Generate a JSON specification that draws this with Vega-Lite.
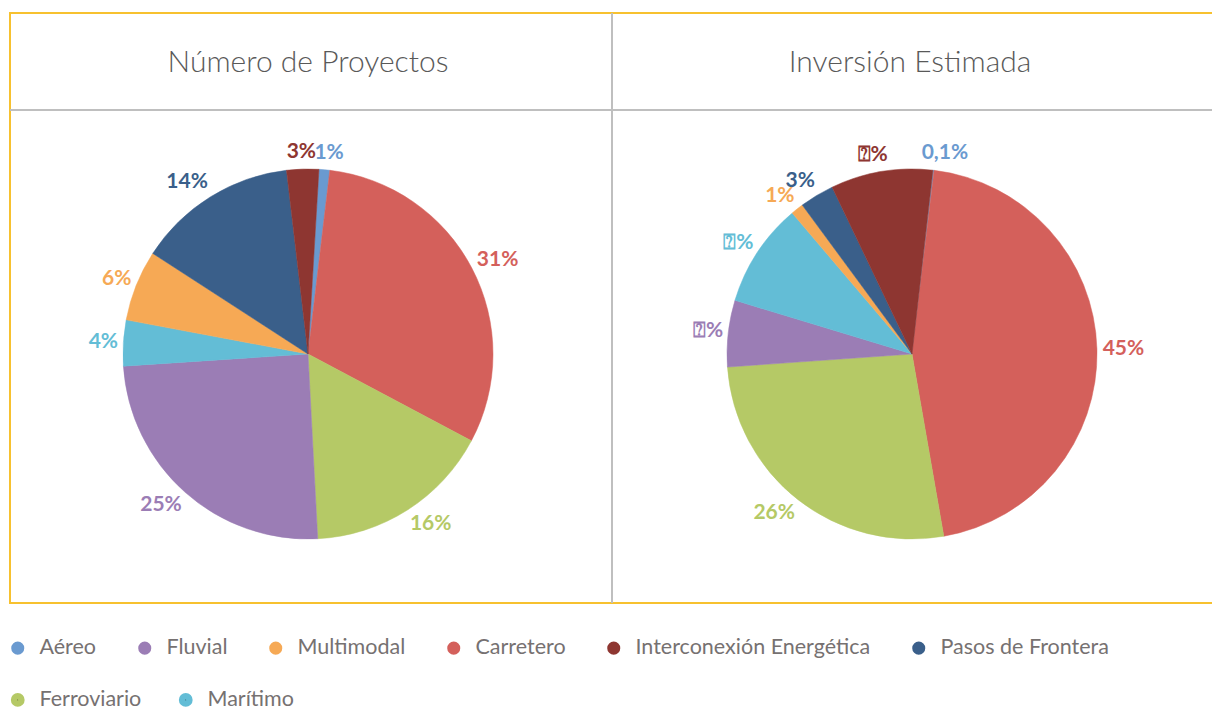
{
  "$schema": "https://vega.github.io/schema/vega-lite/v6.json",
  "width": 1204,
  "height": 590,
  "padding": {"left": 7, "top": 12, "right": 0, "bottom": 0},
  "background": "white",
  "config": {
    "view": {"stroke": "#F7C12F", "strokeWidth": 2},
    "font": "Lato"
  },
  "datasets": {
    "pies": [
      {"grafico": "Número de Proyectos", "categoria": "Aéreo", "orden": 1, "valor": 0.94, "etiqueta": "1%"},
      {"grafico": "Número de Proyectos", "categoria": "Carretero", "orden": 2, "valor": 30.9, "etiqueta": "31%"},
      {"grafico": "Número de Proyectos", "categoria": "Ferroviario", "orden": 3, "valor": 16.4, "etiqueta": "16%"},
      {"grafico": "Número de Proyectos", "categoria": "Fluvial", "orden": 4, "valor": 24.8, "etiqueta": "25%"},
      {"grafico": "Número de Proyectos", "categoria": "Marítimo", "orden": 5, "valor": 4.0, "etiqueta": "4%"},
      {"grafico": "Número de Proyectos", "categoria": "Multimodal", "orden": 6, "valor": 6.2, "etiqueta": "6%"},
      {"grafico": "Número de Proyectos", "categoria": "Pasos de Frontera", "orden": 7, "valor": 14.0, "etiqueta": "14%"},
      {"grafico": "Número de Proyectos", "categoria": "Interconexión Energética", "orden": 8, "valor": 2.8, "etiqueta": "3%"},
      {"grafico": "Inversión Estimada", "categoria": "Aéreo", "orden": 1, "valor": 0.1, "etiqueta": "0,1%"},
      {"grafico": "Inversión Estimada", "categoria": "Carretero", "orden": 2, "valor": 45.3, "etiqueta": "45%"},
      {"grafico": "Inversión Estimada", "categoria": "Ferroviario", "orden": 3, "valor": 26.6, "etiqueta": "26%"},
      {"grafico": "Inversión Estimada", "categoria": "Fluvial", "orden": 4, "valor": 5.8, "etiqueta": "⍰%"},
      {"grafico": "Inversión Estimada", "categoria": "Marítimo", "orden": 5, "valor": 9.1, "etiqueta": "⍰%"},
      {"grafico": "Inversión Estimada", "categoria": "Multimodal", "orden": 6, "valor": 1.1, "etiqueta": "1%"},
      {"grafico": "Inversión Estimada", "categoria": "Pasos de Frontera", "orden": 7, "valor": 3.0, "etiqueta": "3%"},
      {"grafico": "Inversión Estimada", "categoria": "Interconexión Energética", "orden": 8, "valor": 8.9, "etiqueta": "⍰%"}
    ]
  },
  "layer": [
    {
      "data": {"name": "pies"},
      "transform": [{"filter": "datum.grafico === 'Número de Proyectos'"}],
      "encoding": {
        "theta": {"field": "valor", "type": "quantitative", "stack": true, "scale": {"range": [0.0593, 6.3425]}},
        "order": {"field": "orden", "type": "quantitative"},
        "color": {
          "field": "categoria", "type": "nominal",
          "scale": {
            "domain": ["Aéreo", "Fluvial", "Multimodal", "Carretero", "Interconexión Energética", "Pasos de Frontera", "Ferroviario", "Marítimo"],
            "range": ["#6A9AD0", "#9B7DB5", "#F6A955", "#D4605B", "#8E3631", "#3A5F8A", "#B5C966", "#63BDD6"]
          },
          "legend": {
            "title": null,
            "values": ["Aéreo", "Fluvial", "Multimodal", "Carretero", "Interconexión Energética", "Pasos de Frontera"],
            "orient": "none",
            "legendX": -3,
            "legendY": 624,
            "direction": "horizontal",
            "columns": 6,
            "symbolType": "circle",
            "symbolSize": 170,
            "symbolStrokeWidth": 0,
            "labelFont": "Lato",
            "labelFontSize": 21.5,
            "labelColor": "#767171",
            "labelOffset": 11,
            "labelLimit": 400,
            "columnPadding": 37
          }
        }
      },
      "layer": [
        {
          "mark": {"type": "arc", "outerRadius": 185, "x": 298, "y": 341, "strokeWidth": 0.5},
          "encoding": {
            "stroke": {
              "field": "categoria", "type": "nominal",
              "scale": {
                "domain": ["Ferroviario", "Marítimo", "Aéreo", "Fluvial", "Multimodal", "Carretero", "Interconexión Energética", "Pasos de Frontera"],
                "range": ["#B5C966", "#63BDD6", "#6A9AD0", "#9B7DB5", "#F6A955", "#D4605B", "#8E3631", "#3A5F8A"]
              },
              "legend": {
                "title": null,
                "values": ["Ferroviario", "Marítimo"],
                "orient": "none",
                "legendX": -3,
                "legendY": 676,
                "direction": "horizontal",
                "columns": 2,
                "symbolType": "circle",
                "symbolSize": 42,
                "symbolStrokeWidth": 7.3,
                "symbolFillColor": "transparent",
                "labelFont": "Lato",
                "labelFontSize": 21.5,
                "labelColor": "#767171",
                "labelOffset": 11,
                "labelLimit": 400,
                "columnPadding": 25
              }
            }
          }
        },
        {
          "mark": {
            "type": "text", "radius": 192, "x": 298, "y": 341, "font": "Lato", "fontSize": 21, "fontWeight": "bold", "baseline": "middle",
            "dx": {"expr": "(sin(0.0593 + PI*(datum.valor_start+datum.valor_end)/100) >= 0 ? 1 : -1) * min(1, abs(sin(0.0593 + PI*(datum.valor_start+datum.valor_end)/100))*3.5) * length(datum.etiqueta) * 6.5"},
            "dy": {"expr": "-cos(0.0593 + PI*(datum.valor_start+datum.valor_end)/100) * 10"}
          },
          "encoding": {"text": {"field": "etiqueta"}}
        }
      ]
    },
    {
      "data": {"name": "pies"},
      "transform": [{"filter": "datum.grafico === 'Inversión Estimada'"}],
      "encoding": {
        "theta": {"field": "valor", "type": "quantitative", "stack": true, "scale": {"range": [0.1134, 6.3966]}},
        "order": {"field": "orden", "type": "quantitative"},
        "color": {"field": "categoria", "type": "nominal"}
      },
      "layer": [
        {
          "mark": {"type": "arc", "outerRadius": 185, "x": 902, "y": 341, "strokeWidth": 0.5},
          "encoding": {"stroke": {"field": "categoria", "type": "nominal"}}
        },
        {
          "mark": {
            "type": "text", "radius": 192, "x": 902, "y": 341, "font": "Lato", "fontSize": 21, "fontWeight": "bold", "baseline": "middle",
            "dx": {"expr": "(sin(0.1134 + PI*(datum.valor_start+datum.valor_end)/99.9) >= 0 ? 1 : -1) * min(1, abs(sin(0.1134 + PI*(datum.valor_start+datum.valor_end)/99.9))*3.5) * length(datum.etiqueta) * 6.5"},
            "dy": {"expr": "-cos(0.1134 + PI*(datum.valor_start+datum.valor_end)/99.9) * 10"}
          },
          "encoding": {"text": {"field": "etiqueta"}}
        }
      ]
    },
    {
      "data": {"values": [{"titulo": "Número de Proyectos"}, {"titulo": "Inversión Estimada"}]},
      "mark": {"type": "text", "font": "Lato", "fontSize": 30, "fontWeight": 300, "color": "#595959", "y": 50, "dx": -3, "baseline": "middle"},
      "encoding": {
        "x": {"field": "titulo", "type": "nominal", "sort": null, "scale": {"type": "band", "paddingInner": 0, "paddingOuter": 0}, "axis": null},
        "text": {"field": "titulo"}
      }
    },
    {
      "data": {"values": [{}]},
      "mark": {"type": "rule", "color": "#BFBFBF", "strokeWidth": 2},
      "encoding": {
        "x": {"value": 0},
        "x2": {"value": "width"},
        "y": {"value": 97}
      }
    },
    {
      "data": {"values": [{}]},
      "mark": {"type": "rule", "color": "#BFBFBF", "strokeWidth": 2},
      "encoding": {
        "x": {"value": {"expr": "width/2"}},
        "y": {"value": 0},
        "y2": {"value": "height"}
      }
    }
  ],
  "resolve": {"scale": {"theta": "independent", "x": "independent"}}
}
